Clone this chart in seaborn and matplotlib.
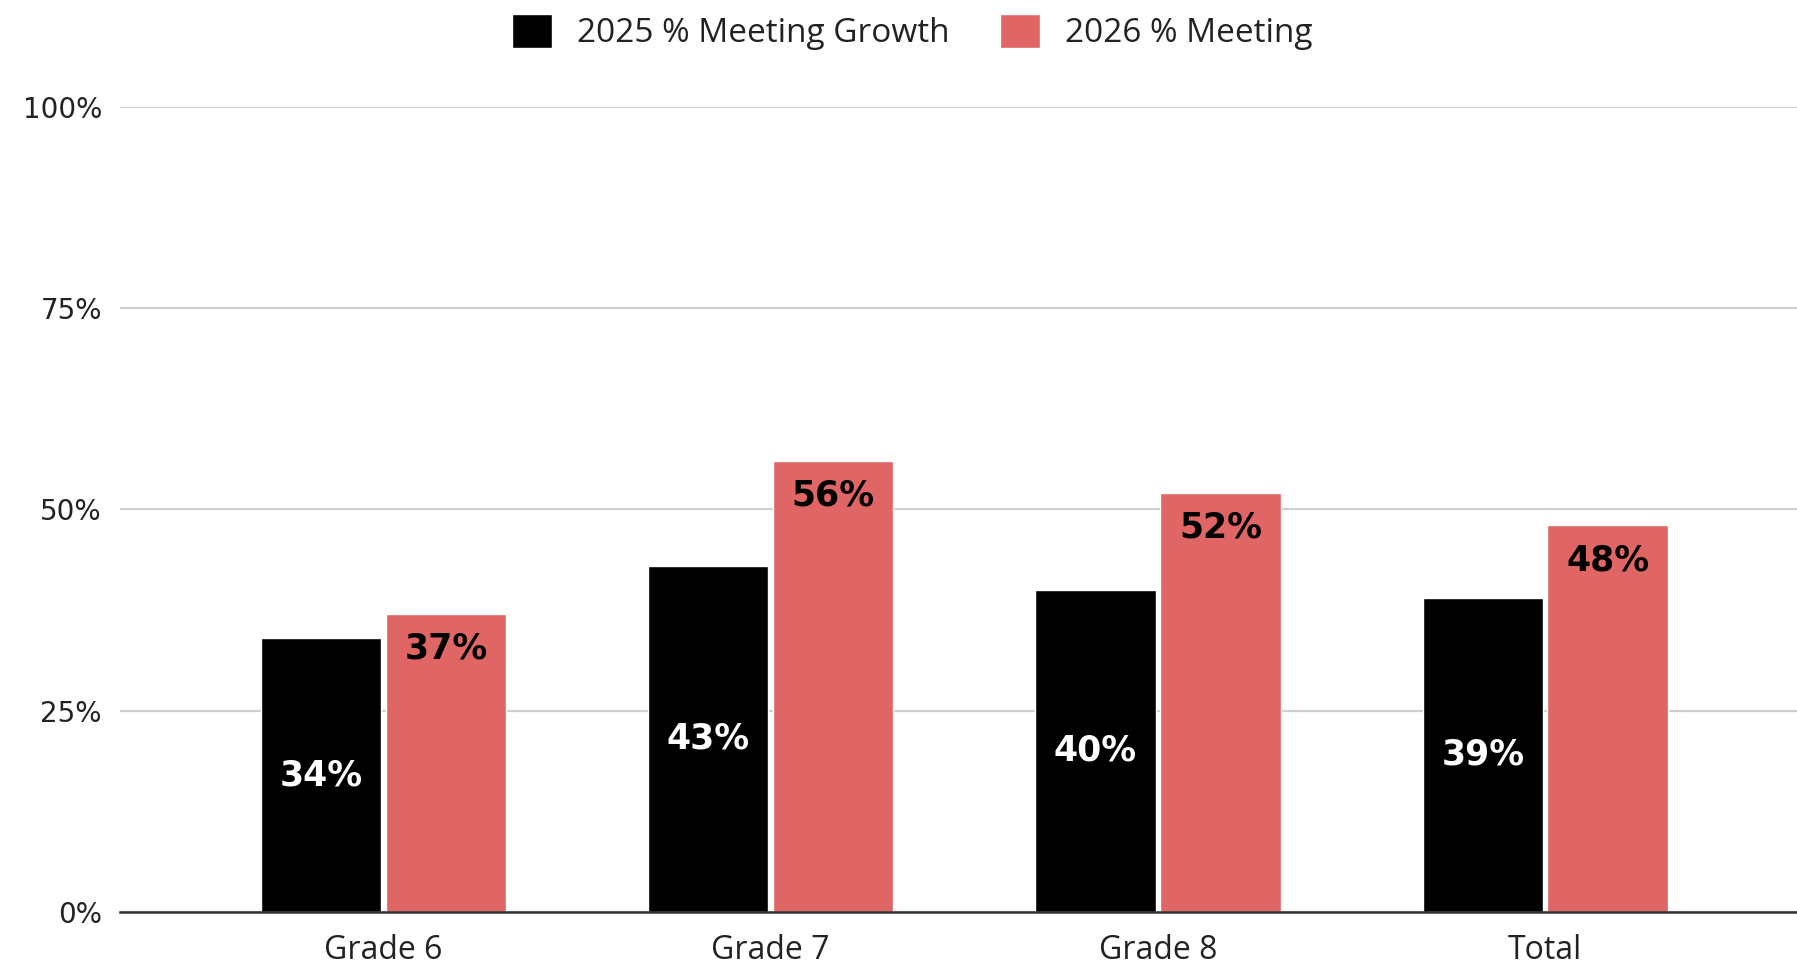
import pandas as pd
import matplotlib.pyplot as plt
import seaborn as sns

# chart data
grades = ["Grade 6", "Grade 7", "Grade 8", "Total"]
growth_2025 = [0.34, 0.43, 0.40, 0.39]
meeting_2026 = [0.37, 0.56, 0.52, 0.48]
series = ["2025 % Meeting Growth", "2026 % Meeting"]
yticks = [0, 0.25, 0.5, 0.75, 1.0]
ytick_labels = ["0%", "25%", "50%", "75%", "100%"]

df = pd.DataFrame({
    "Grade": grades * 2,
    "Series": [series[0]] * len(grades) + [series[1]] * len(grades),
    "Value": growth_2025 + meeting_2026,
})

sns.set_style("white")
plt.rcParams["font.family"] = ["Open Sans", "DejaVu Sans"]

fig = plt.figure(figsize=(17.97, 9.65), dpi=100)
ax = fig.add_axes([0.0668, 0.0549, 0.9332, 0.8346])

sns.barplot(data=df, x="Grade", y="Value", hue="Series", hue_order=series,
            palette=["#000000", "#e06666"], width=0.645, gap=0.035,
            saturation=1, ax=ax, legend=True)

ax.set_ylim(0, 1.0)
ax.set_xlim(-0.68, 3.65)
ax.set_yticks(yticks)
ax.set_yticklabels(ytick_labels, fontfamily="DejaVu Sans", fontsize=20, color="#222222")
ax.tick_params(axis="y", length=0, pad=13)
ax.tick_params(axis="x", length=0, pad=16, labelsize=23, labelcolor="#222222")
ax.set_xlabel("")
ax.set_ylabel("")
ax.yaxis.grid(True, color="#cfcfcf", linewidth=1.6)
ax.set_axisbelow(True)
for s in ["left", "right", "top"]:
    ax.spines[s].set_visible(False)
ax.spines["bottom"].set_color("#333333")
ax.spines["bottom"].set_linewidth(1.8)

# value labels
black_bars, red_bars = ax.containers[0], ax.containers[1]
ax.bar_label(black_bars, labels=[f"{v:.0%}" for v in growth_2025], label_type="center",
             color="white", fontsize=25, fontweight="bold", fontfamily="DejaVu Sans")
for patch, v in zip(red_bars, meeting_2026):
    ax.annotate(f"{v:.0%}", xy=(patch.get_x() + patch.get_width() / 2, patch.get_height()),
                xytext=(0, -25), textcoords="offset points", ha="center", va="center",
                color="black", fontsize=25, fontweight="bold", fontfamily="DejaVu Sans")

handles, labels = ax.get_legend_handles_labels()
ax.get_legend().remove()
fig.legend(handles, labels, loc="center", bbox_to_anchor=(0.5075, 0.967), ncol=2,
           frameon=False, fontsize=24, handlelength=1.2, handleheight=1.2,
           handletextpad=0.75, columnspacing=1.5, labelcolor="#222222")

fig.savefig("out.png", dpi=100)
